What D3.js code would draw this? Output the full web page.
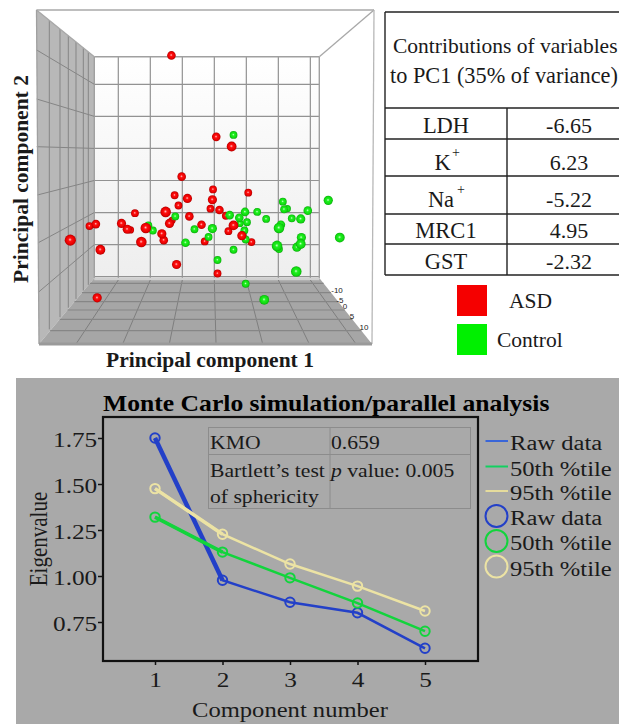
<!DOCTYPE html>
<html>
<head>
<title>PCA and parallel analysis</title>
<script src="https://d3js.org/d3.v7.min.js"></script>
<style>
body { margin: 0; background: #fff; }
svg { display: block; }
text { font-family: "Liberation Serif", serif; fill: #1a1a1a; }
</style>
</head>
<body>
<svg id="fig" width="619" height="724"></svg>
<script>
// scatter values (pc3 only shows as sphere size)
var asdPC1 = [-6.7, 0.3, 2.7, -5.1, -0.2, 5.3, -6.2, -4.2, -0.3, -5.6, -0.6, 0.8, -12.4, -7.6, -3.9, -6.6, -7.0, 1.8, -18.5, -19.5, -14.5, -2.0, 3.0, -10.7, -13.1, -13.6, 2.2, -8.2, 4.3, -7.9, -11.4, -1.5, 5.8, -22.5, -17.8, -5.9, 0.5, -18.3];
var asdPC2 = [24.5, 11.8, 10.3, 5.6, 3.6, 3.1, 2.7, 2.2, 2.0, 1.1, 0.6, 0.4, -0.1, 0.1, -0.6, -1.2, -1.7, -0.5, -1.8, -2.1, -1.7, -1.9, -2.0, -2.4, -2.7, -2.6, -2.9, -3.3, -3.6, -4.3, -4.6, -4.5, -4.6, -4.3, -5.8, -8.1, -9.5, -13.3];
var asdPC3 = [-3, -3, 3, -3, -7, -7, -7, 0, 0, -7, -7, -3, -7, 7, -3, -10, 0, -7, -3, -7, 0, -3, 3, 7, -10, 0, -7, 0, 0, -3, 7, -7, -7, 10, 3, 0, -7, 0];
var ctrlPC1 = [3.0, 17.8, 10.7, 11.4, 10.9, 14.6, 6.7, 4.8, 2.4, -6.1, 3.9, 8.1, 12.1, 13.5, 5.1, 4.0, 10.4, 10.1, -10.3, -9.6, -3.1, -0.3, 4.7, -0.9, 4.9, 13.6, 19.6, -4.5, 13.5, 12.9, 9.8, 10.1, 3.0, 0.5, 12.8, 4.9, 7.8];
var ctrlPC2 = [12.1, 1.9, 1.7, 0.6, 0.5, 0.3, 0.1, 0.1, -0.4, -0.6, -0.8, -1.0, -0.9, -1.0, -1.5, -1.7, -1.9, -2.4, -2.0, -2.8, -2.6, -2.5, -2.8, -3.8, -4.2, -3.9, -3.9, -4.7, -4.9, -5.4, -5.2, -5.7, -5.8, -7.4, -9.2, -11.1, -13.6];
var ctrlPC3 = [-7, 0, -7, -10, -7, -3, -7, -3, -3, -7, -3, -7, -7, 0, -7, -10, -3, 7, -7, -7, -7, 0, -7, -7, -7, 0, 3, -3, 3, 0, 7, -7, -7, -7, 7, -7, 3];

var pc1Ticks = [-15, -10, -5, 0, 5, 10, 15];
var pc2Ticks = [-10, -5, 0, 5, 10, 15, 20];
var depthLabels = ["-10", "-5", "0", "5", "10"];

// contributions table
var tableVars = ["LDH", "K", "Na", "MRC1", "GST"];
var tableVals = ["-6.65", "6.23", "-5.22", "4.95", "-2.32"];
var groupNames = ["ASD", "Control"];

// parallel analysis
var components = [1, 2, 3, 4, 5];
var rawData = [1.75, 0.977, 0.857, 0.80, 0.607];
var pct50 = [1.32, 1.13, 0.99, 0.853, 0.70];
var pct95 = [1.475, 1.227, 1.065, 0.945, 0.81];
var eigenTicks = [0.75, 1.00, 1.25, 1.50, 1.75];
var legendNames = ["Raw data", "50th %tile", "95th %tile"];

var rawColor = "#2340c8", c50 = "#12d43c", c95 = "#ece3a4";

var svg = d3.select("#fig");
var defs = svg.append("defs");

function sphereGrad(id, a, b, c, d) {
	var g = defs.append("radialGradient").attr("id", id)
		.attr("cx", "50%").attr("cy", "50%").attr("r", "52%")
		.attr("fx", "47%").attr("fy", "45%");
	g.append("stop").attr("offset", "0%").attr("stop-color", a);
	g.append("stop").attr("offset", "30%").attr("stop-color", b);
	g.append("stop").attr("offset", "72%").attr("stop-color", c);
	g.append("stop").attr("offset", "100%").attr("stop-color", d);
}
sphereGrad("ballRed", "#ffc8c8", "#ff1010", "#ea0000", "#a80000");
sphereGrad("ballGreen", "#d0ffd0", "#20f020", "#10dc10", "#0ca40c");

var wallGrad = defs.append("linearGradient").attr("id", "wall")
	.attr("x1", 0).attr("y1", 0).attr("x2", 0).attr("y2", 1);
wallGrad.append("stop").attr("offset", "0%").attr("stop-color", "#ffffff");
wallGrad.append("stop").attr("offset", "100%").attr("stop-color", "#eeeeee");

// ---- 3d box ----
var x3 = d3.scaleLinear().domain([-18.75, 16.4]).range([94.3, 319.3]);
var y3 = d3.scaleLinear().domain([-10, 24.3]).range([276.7, 56.7]);
var r3 = d3.scaleLinear().domain([-10, 10]).range([3.6, 5.6]);

var gridColor = "#929292";
var box = svg.append("g");

function poly(pts, fill) {
	box.append("polygon").attr("points", pts.join(" ")).attr("fill", fill);
}
function seg(x1, y1, x2, y2, w, col) {
	box.append("line").attr("x1", x1).attr("y1", y1).attr("x2", x2).attr("y2", y2)
		.attr("stroke", col || gridColor).attr("stroke-width", w || 1);
}
// walls
poly(["36.5,10", "94.3,56.7", "94.3,278", "39,344"], "#b8b8b8");
poly(["94.3,278", "319.3,278", "372,344", "39,344"], "#a6a6a6");
box.append("rect").attr("x", 94.3).attr("y", 56.7).attr("width", 225).attr("height", 221.3).attr("fill", "url(#wall)");

// back wall grid from the scales
pc1Ticks.forEach(function (t) { seg(x3(t), 56.7, x3(t), 278, 1.2); });
pc2Ticks.forEach(function (t) { seg(94.3, y3(t), 319.3, y3(t), 1.2); });
seg(94.3, 56.7, 94.3, 278, 1.4, "#a0a0a0");
seg(319.3, 56.7, 319.3, 278, 1.4, "#a0a0a0");
seg(94.3, 56.7, 319.3, 56.7, 1.4, "#a0a0a0");
seg(94.3, 279, 319.3, 279, 2.5, "#d0d0d0");

// left wall
var wallLeft = [[36.7, 50], [36.7, 99], [36.7, 146.7], [37.3, 195], [38.3, 242.7], [39, 291.7]];
pc2Ticks.slice().reverse().slice(0, 6).forEach(function (t, i) {
	seg(wallLeft[i][0], wallLeft[i][1], 94.3, y3(t), 1, "#858585");
});
[49.3, 60, 68.3, 76, 83.3, 88.3].forEach(function (xv) {
	var t = (xv - 36.5) / (94.3 - 36.5);
	seg(xv, 10 + t * 46.7, xv, 344 - t * 66, 1, "#858585");
});

// floor
var floorEnd = [76, 122.7, 169.3, 216, 262.7, 309.3, 356];
pc1Ticks.forEach(function (t, i) { seg(x3(t), 280, floorEnd[i], 344, 1, "#7e7e7e"); });
[283.3, 292.7, 301.7, 310, 319.3, 330.7].forEach(function (yv) {
	var t = (yv - 278) / 66;
	seg(94.3 - t * 55.3, yv, 319.3 + t * 52.7, yv, 1.2, "#868686");
});

// outer frame
seg(36.5, 10, 374, 10, 1.3, "#a8a8a8");
seg(36.5, 10, 94.3, 56.7, 1.3, "#a8a8a8");
seg(374, 10, 319.3, 56.7, 1.3, "#a8a8a8");
seg(374, 10, 372, 344, 1.3, "#b8b8b8");
seg(36.5, 10, 39, 344, 1.3, "#a0a0a0");
seg(39, 344, 372, 344, 3, "#9a9a9a");

// depth labels, running down the right floor edge
var depthX = d3.scaleOrdinal().domain(depthLabels).range([337, 340, 345, 352, 364]);
var depthY = d3.scaleOrdinal().domain(depthLabels).range([293, 303, 309, 319, 330]);
svg.selectAll("text.depth").data(depthLabels).enter().append("text")
	.attr("class", "depth")
	.attr("x", function (d) { return depthX(d); })
	.attr("y", function (d) { return depthY(d); })
	.attr("text-anchor", "middle")
	.style("font-family", "'Liberation Sans', sans-serif")
	.attr("font-size", 8)
	.text(function (d) { return d; });

// spheres, far ones first so near ones sit on top
var balls = [];
asdPC1.forEach(function (v, i) { balls.push({ a: v, b: asdPC2[i], c: asdPC3[i], g: "ballRed" }); });
ctrlPC1.forEach(function (v, i) { balls.push({ a: v, b: ctrlPC2[i], c: ctrlPC3[i], g: "ballGreen" }); });
balls.sort(function (p, q) { return p.c - q.c; });

svg.append("g").selectAll("circle").data(balls).enter().append("circle")
	.attr("cx", function (d) { return x3(d.a); })
	.attr("cy", function (d) { return y3(d.b); })
	.attr("r", function (d) { return r3(d.c); })
	.attr("fill", function (d) { return "url(#" + d.g + ")"; });

svg.append("text").text("Principal component 1")
	.attr("x", 210).attr("y", 367).attr("text-anchor", "middle")
	.attr("font-size", 21.5).attr("font-weight", "bold");
svg.append("text").text("Principal component 2")
	.attr("transform", "translate(28,179) rotate(-90)").attr("text-anchor", "middle")
	.attr("font-size", 21.5).attr("font-weight", "bold");

// ---- table ----
var rowLines = [108, 139, 176, 214, 244, 275];
var rowBase = [133, 170, 207, 238, 269];
var table = svg.append("g");
function tline(x1, y1, x2, y2) {
	table.append("line").attr("x1", x1).attr("y1", y1).attr("x2", x2).attr("y2", y2)
		.attr("stroke", "#222").attr("stroke-width", 1.4);
}
tline(385, 12, 619, 12);
tline(385, 12, 385, 275);
tline(507, 108, 507, 275);
rowLines.forEach(function (y) { tline(385, y, 619, y); });

table.append("text").text("Contributions of variables").attr("x", 393).attr("y", 53).attr("font-size", 21.5);
table.append("text").text("to PC1 (35% of variance)").attr("x", 390).attr("y", 83).attr("font-size", 22.3);
tableVars.forEach(function (v, i) {
	table.append("text").text(v).attr("x", i == 1 ? 442.5 : i == 2 ? 441 : 446).attr("y", rowBase[i])
		.attr("text-anchor", "middle").attr("font-size", 22.5);
	table.append("text").text(tableVals[i]).attr("x", 569).attr("y", rowBase[i])
		.attr("text-anchor", "middle").attr("font-size", 22);
});
table.append("text").text("+").attr("x", 456).attr("y", 157).attr("text-anchor", "middle").attr("font-size", 14);
table.append("text").text("+").attr("x", 461).attr("y", 194).attr("text-anchor", "middle").attr("font-size", 14);

// group legend
table.append("rect").attr("x", 457).attr("y", 285).attr("width", 30).attr("height", 31).attr("fill", "#f50000");
table.append("rect").attr("x", 457).attr("y", 324).attr("width", 30).attr("height", 31).attr("fill", "#00f000");
table.append("text").text(groupNames[0]).attr("x", 509).attr("y", 308).attr("font-size", 21.5);
table.append("text").text(groupNames[1]).attr("x", 497).attr("y", 347).attr("font-size", 21.5);

// ---- lower panel ----
svg.append("rect").attr("x", 16).attr("y", 378).attr("width", 603).attr("height", 346).attr("fill", "#a9a9a9");

var xS = d3.scaleLinear().domain([1, 5]).range([155, 425]);
var yS = d3.scaleLinear().domain([0.75, 1.75]).range([622, 438]);

var xAxis = d3.axisBottom(xS).tickValues(components).tickFormat(d3.format("d")).tickSize(4).tickPadding(6);
var yAxis = d3.axisLeft(yS).tickValues(eigenTicks).tickFormat(d3.format(".2f")).tickSize(5).tickPadding(0);

var xG = svg.append("g").attr("transform", "translate(0,661)").call(xAxis);
var yG = svg.append("g").attr("transform", "translate(103,0)").call(yAxis);
[xG, yG].forEach(function (g) {
	g.select(".domain").remove();
	g.selectAll("line").attr("stroke", "#111").attr("stroke-width", 1.5);
	// everything in this panel is a bit wider than the plain font
	g.selectAll("text").attr("font-size", 22).attr("transform", "scale(1.15,1)")
		.style("font-family", "'Liberation Serif', serif").attr("fill", "#1a1a1a");
});
yG.selectAll("text").attr("dy", "0.4em");

// text squeezed to the panel's wide look
function wide(str, x, y, size, sx) {
	return svg.append("text").text(str)
		.attr("transform", "translate(" + x + "," + y + ") scale(" + sx + ",1)")
		.attr("font-size", size);
}

// inner info table
var info = svg.append("g");
info.append("rect").attr("x", 208.5).attr("y", 427.5).attr("width", 262).attr("height", 81)
	.attr("fill", "none").attr("stroke", "#8c8c8c").attr("stroke-width", 1);
info.append("line").attr("x1", 208.5).attr("x2", 470.5).attr("y1", 454.5).attr("y2", 454.5).attr("stroke", "#8c8c8c");
info.append("line").attr("x1", 330).attr("x2", 330).attr("y1", 427.5).attr("y2", 508.5).attr("stroke", "#8c8c8c");
wide("KMO", 210, 449, 19, 1.14);
wide("0.659", 331, 449, 19, 1.14);
wide("Bartlett\u2019s test", 210, 477, 19, 1.14);
wide("of sphericity", 210, 503, 19, 1.14);
var pv = wide("", 331, 477, 19, 1.14);
pv.append("tspan").attr("font-style", "italic").text("p");
pv.append("tspan").text(" value: 0.005");

// series
var line = d3.line().x(function (d, i) { return xS(components[i]); }).y(function (d) { return yS(d); });
var series = [
	{ v: rawData, col: rawColor, w: 2.5, first: 4.5 },
	{ v: pct50, col: c50, w: 2.5, first: 3.5 },
	{ v: pct95, col: c95, w: 2.5, first: 3.5 }
];
series.forEach(function (s) {
	svg.append("path").attr("d", line(s.v)).attr("fill", "none")
		.attr("stroke", s.col).attr("stroke-width", s.w);
	// first segment is drawn heavier in the original
	svg.append("line").attr("x1", xS(1)).attr("y1", yS(s.v[0])).attr("x2", xS(2)).attr("y2", yS(s.v[1]))
		.attr("stroke", s.col).attr("stroke-width", s.first);
	svg.selectAll(null).data(s.v).enter().append("circle")
		.attr("cx", function (d, i) { return xS(components[i]); })
		.attr("cy", function (d) { return yS(d); })
		.attr("r", 4.7).attr("fill", "none").attr("stroke", s.col).attr("stroke-width", 2);
});

// plot frame on top
svg.append("rect").attr("x", 103).attr("y", 417).attr("width", 375).attr("height", 244)
	.attr("fill", "none").attr("stroke", "#111").attr("stroke-width", 2.2);

// legend
var legLine = ["#3a66d8", "#12d060", "#e6dc9c"];
var legCols = [rawColor, c50, c95];
var legLineY = d3.scaleOrdinal().domain(legendNames).range([441, 466.5, 491]);
var legCircleY = d3.scaleOrdinal().domain(legendNames).range([516, 541, 566.5]);
legendNames.forEach(function (n, i) {
	svg.append("line").attr("x1", 485.5).attr("x2", 508).attr("y1", legLineY(n)).attr("y2", legLineY(n))
		.attr("stroke", legLine[i]).attr("stroke-width", 2);
	wide(n, 510, legLineY(n) + 9, 20, 1.23);
	svg.append("circle").attr("cx", 496.5).attr("cy", legCircleY(n)).attr("r", 11)
		.attr("fill", "none").attr("stroke", legCols[i]).attr("stroke-width", 2);
	wide(n, 510, legCircleY(n) + 9, 20, 1.23);
});

wide("Monte Carlo simulation/parallel analysis", 103, 411, 23, 1.115)
	.attr("font-weight", "bold").style("fill", "#000");
wide("Component number", 192, 717, 20.5, 1.2);
svg.append("text").text("Eigenvalue")
	.attr("transform", "translate(47,539) rotate(-90) scale(1,1.2)").attr("text-anchor", "middle").attr("font-size", 21);
</script>
</body>
</html>
